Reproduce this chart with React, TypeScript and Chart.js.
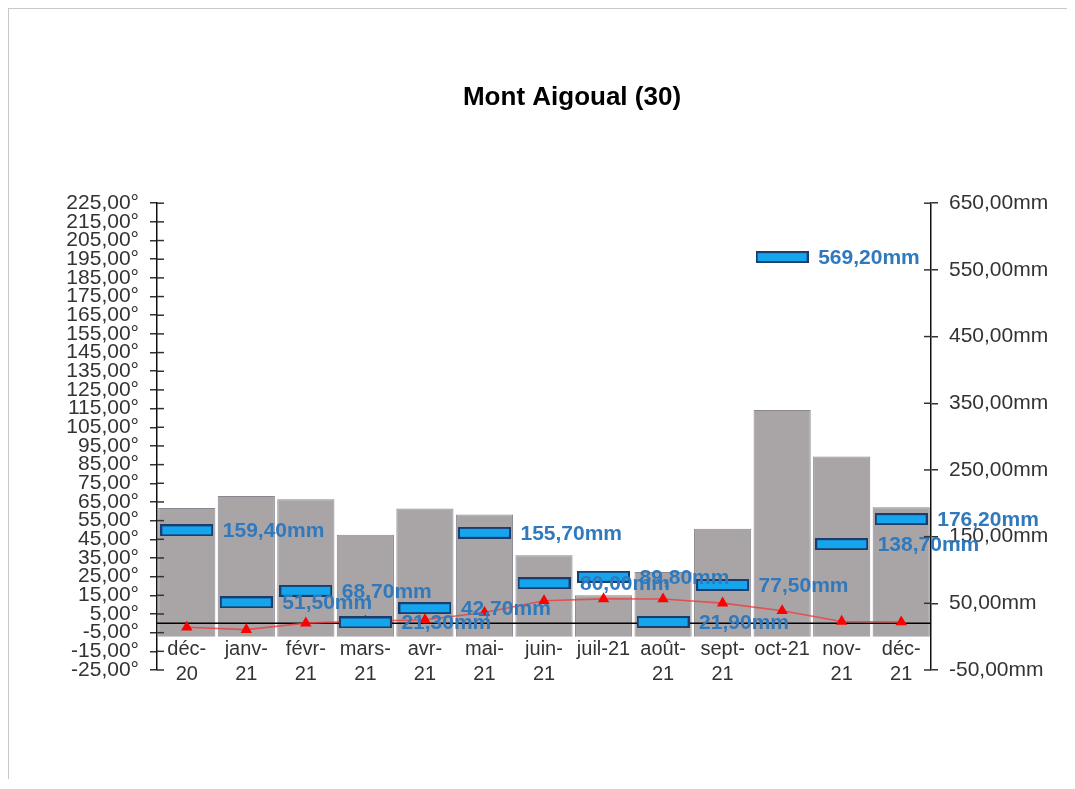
import React, { useEffect, useRef } from 'react';
import { Chart, registerables } from 'chart.js';

Chart.register(...registerables);

const TITLE = 'Mont Aigoual (30)';
const MONTHS: (string | string[])[] = [
  ['déc-', '20'], ['janv-', '21'], ['févr-', '21'], ['mars-', '21'], ['avr-', '21'],
  ['mai-', '21'], ['juin-', '21'], 'juil-21', ['août-', '21'], ['sept-', '21'],
  'oct-21', ['nov-', '21'], ['déc-', '21'],
];
const NORMALS_MM = [193, 211, 206, 153, 192, 183, 122, 62, 97, 162, 340, 270, 194];
const PRECIP_MM = [159.4, 51.5, 68.7, 21.3, 42.7, 155.7, 80.0, 89.8, 21.9, 77.5, 569.2, 138.7, 176.2];
const TEMP_C = [-2.1, -3.4, 0.1, 1.2, 1.9, 5.8, 12.1, 13.1, 13.0, 10.8, 6.7, 1.0, 0.7];
const TEMP_AXIS = [-25, 225, 10];
const MM_AXIS = [-50, 650, 100];

const FONT = '"Liberation Sans", Arial, sans-serif';
const fr = (v: number) => v.toFixed(2).replace('.', ',');

export default function App() {
  const ref = useRef<HTMLCanvasElement | null>(null);
  useEffect(() => {
    if (!ref.current) return;
    const marker = document.createElement('canvas');
    marker.width = 53;
    marker.height = 12;
    const mc = marker.getContext('2d')!;
    mc.fillStyle = '#14A5EC';
    mc.fillRect(0, 0, 53, 12);
    mc.strokeStyle = '#1D3C6E';
    mc.lineWidth = 2;
    mc.strokeRect(1, 1, 51, 10);

    const overlay = {
      id: 'overlay',
      afterDatasetDraw(chart: any, args: any) {
        if (args.index !== 0) return;
        const { ctx, chartArea } = chart;
        const y0 = chart.scales.y.getPixelForValue(0);
        ctx.save();
        ctx.strokeStyle = '#000';
        ctx.lineWidth = 1.5;
        ctx.beginPath();
        ctx.moveTo(chartArea.left, y0);
        ctx.lineTo(chartArea.right, y0);
        ctx.stroke();
        ctx.restore();
      },
      afterDatasetsDraw(chart: any) {
        const { ctx } = chart;
        const meta = chart.getDatasetMeta(2);
        ctx.save();
        ctx.font = `bold 21px ${FONT}`;
        ctx.fillStyle = '#3079BC';
        ctx.textAlign = 'left';
        ctx.textBaseline = 'middle';
        meta.data.forEach((pt: any, i: number) => {
          ctx.fillText(fr(PRECIP_MM[i]) + 'mm', pt.x + 36, pt.y + 1);
        });
        ctx.restore();
      },
      afterDraw(chart: any) {
        const { ctx, chartArea } = chart;
        ctx.save();
        ctx.strokeStyle = '#333';
        ctx.lineWidth = 1.5;
        const ys = chart.scales.y;
        ys.ticks.forEach((_t: any, i: number) => {
          const p = ys.getPixelForTick(i);
          ctx.beginPath();
          ctx.moveTo(chartArea.left, p);
          ctx.lineTo(chartArea.left + 7, p);
          ctx.stroke();
        });
        const y1 = chart.scales.y1;
        y1.ticks.forEach((_t: any, i: number) => {
          const p = y1.getPixelForTick(i);
          ctx.beginPath();
          ctx.moveTo(chartArea.right - 7, p);
          ctx.lineTo(chartArea.right, p);
          ctx.stroke();
        });
        ctx.restore();
      },
    };

    const chart = new Chart(ref.current, {
      type: 'bar',
      data: {
        labels: MONTHS as any,
        datasets: [
          {
            type: 'bar',
            label: 'Normales',
            data: NORMALS_MM,
            yAxisID: 'y1',
            backgroundColor: '#A9A5A7',
            borderColor: '#8A8690',
            borderWidth: 1,
            barPercentage: 0.96,
            categoryPercentage: 1,
            order: 3,
          },
          {
            type: 'line',
            label: 'Température',
            data: TEMP_C,
            yAxisID: 'y',
            borderColor: 'rgba(240,60,60,0.8)',
            borderWidth: 1.6,
            pointStyle: 'triangle',
            pointRadius: 5,
            pointBackgroundColor: '#FF0000',
            pointBorderColor: '#FF0000',
            tension: 0,
            order: 2,
          },
          {
            type: 'line',
            label: 'Précipitations',
            data: PRECIP_MM,
            yAxisID: 'y1',
            showLine: false,
            pointStyle: marker as any,
            pointRadius: 6,
            order: 1,
          },
        ] as any,
      },
      options: {
        responsive: false,
        animation: false,
        layout: { padding: { left: 0, right: 0, top: 20, bottom: 109 } },
        plugins: {
          legend: { display: false },
          tooltip: { enabled: false },
          title: {
            display: true,
            text: TITLE,
            color: '#000',
            font: { family: FONT, size: 26, weight: 'bold' },
            padding: { top: 53, bottom: 90 },
          },
        },
        scales: {
          x: {
            type: 'category',
            position: { y: 0 } as any,
            offset: true,
            grid: { display: false, drawTicks: false, tickLength: 0 },
            border: { display: false },
            ticks: {
              autoSkip: false,
              maxRotation: 0,
              minRotation: 0,
              padding: 14,
              color: '#333',
              font: { family: FONT, size: 20, lineHeight: 1.25 },
            },
          },
          y: {
            type: 'linear',
            position: 'left',
            min: TEMP_AXIS[0],
            max: TEMP_AXIS[1],
            grid: { display: true, drawOnChartArea: false, drawTicks: true, tickLength: 7, color: '#333', lineWidth: 1.5 },
            border: { display: true, color: '#111', width: 1.5 },
            afterFit: (s: any) => { s.width = 148; },
            ticks: {
              stepSize: TEMP_AXIS[2],
              autoSkip: false,
              padding: 11,
              color: '#333',
              font: { family: FONT, size: 21, lineHeight: 1 },
              callback: (v: any) => fr(Number(v)) + '°',
            },
          },
          y1: {
            type: 'linear',
            position: 'right',
            min: MM_AXIS[0],
            max: MM_AXIS[1],
            grid: { display: true, drawOnChartArea: false, drawTicks: true, tickLength: 7, color: '#333', lineWidth: 1.5 },
            border: { display: true, color: '#111', width: 1.5 },
            afterFit: (s: any) => { s.width = 204; },
            ticks: {
              stepSize: MM_AXIS[2],
              autoSkip: false,
              padding: 11,
              color: '#333',
              font: { family: FONT, size: 21, lineHeight: 1 },
              callback: (v: any) => fr(Number(v)) + 'mm',
            },
          },
        },
      } as any,
      plugins: [overlay],
    });
    return () => chart.destroy();
  }, []);

  return (
    <div
      style={{
        width: 1066,
        height: 770,
        overflow: 'hidden',
        borderTop: '1px solid #c8c8c8',
        borderLeft: '1px solid #c8c8c8',
      }}
    >
      <canvas ref={ref} width={1126} height={770} style={{ display: 'block' }} />
    </div>
  );
}
